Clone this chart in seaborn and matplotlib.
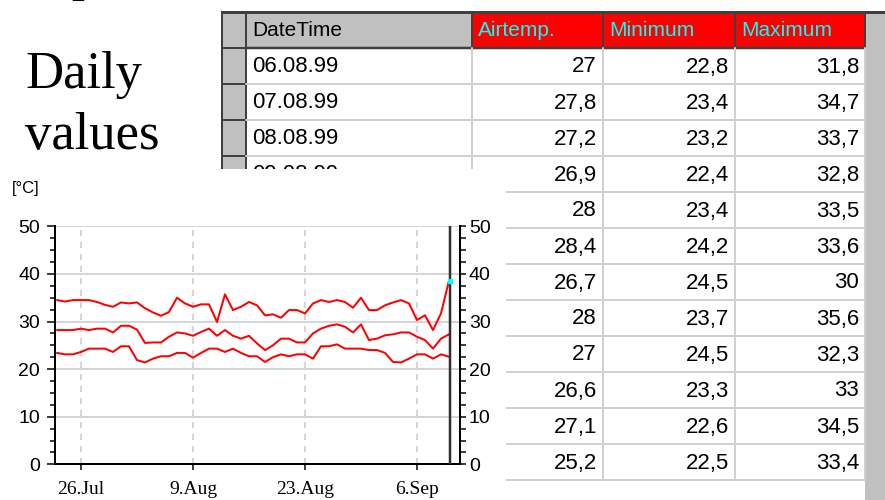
import pandas as pd
import matplotlib
matplotlib.use("Agg")
import matplotlib.pyplot as plt
from matplotlib.patches import Rectangle
from matplotlib.ticker import MultipleLocator
import seaborn as sns

# ---- chart data: daily values from 23 Jul ----
start_date = "1999-07-23"
t_max = [34.5, 34.2, 34.5, 34.5, 34.5, 34.1, 33.5, 33.1, 34.0, 33.8,
         34.0, 32.8, 31.9, 31.2, 32.0, 35.0, 33.8, 33.1, 33.6, 33.6,
         29.9, 35.7, 32.4, 33.1, 34.1, 33.4, 31.3, 31.5, 30.8, 32.4,
         32.4, 31.7, 33.8, 34.5, 34.1, 34.5, 34.1, 32.9, 35.0, 32.4,
         32.4, 33.4, 34.0, 34.5, 33.8, 30.3, 31.3, 28.2, 31.7, 38.6]
t_mean = [28.2, 28.2, 28.2, 28.5, 28.2, 28.5, 28.5, 27.7, 29.1, 29.1,
          28.3, 25.5, 25.6, 25.6, 26.8, 27.7, 27.5, 27.0, 27.8, 28.5,
          27.0, 28.2, 27.0, 26.4, 27.0, 25.4, 24.0, 25.0, 26.4, 26.4,
          25.6, 25.6, 27.5, 28.5, 29.1, 29.4, 28.9, 27.7, 29.4, 26.1,
          26.4, 27.1, 27.3, 27.7, 27.7, 26.8, 26.1, 24.3, 26.4, 27.3]
t_min = [23.4, 23.1, 23.1, 23.6, 24.3, 24.3, 24.3, 23.6, 24.8, 24.8,
         21.9, 21.4, 22.2, 22.7, 22.7, 23.4, 23.4, 22.4, 23.4, 24.3,
         24.3, 23.6, 24.3, 23.4, 22.7, 22.7, 21.5, 22.5, 23.1, 22.7,
         23.1, 23.1, 22.2, 24.8, 24.8, 25.2, 24.3, 24.3, 24.3, 24.0,
         24.0, 23.4, 21.5, 21.4, 22.2, 23.1, 23.1, 22.2, 23.1, 22.6]
first_tick = "1999-07-26"

# ---- table data ----
table_header = ["DateTime", "Airtemp.", "Minimum", "Maximum"]
table_dates = ["06.08.99", "07.08.99", "08.08.99", "09.08.99", "10.08.99", "11.08.99",
               "12.08.99", "13.08.99", "14.08.99", "15.08.99", "16.08.99", "17.08.99"]
table_air = [27, 27.8, 27.2, 26.9, 28, 28.4, 26.7, 28, 27, 26.6, 27.1, 25.2]
table_min = [22.8, 23.4, 23.2, 22.4, 23.4, 24.2, 24.5, 23.7, 24.5, 23.3, 22.6, 22.5]
table_max = [31.8, 34.7, 33.7, 32.8, 33.5, 33.6, 30, 35.6, 32.3, 33, 34.5, 33.4]

sns.set_style("white")
plt.rcParams["font.family"] = ["Liberation Sans", "DejaVu Sans"]
plt.rcParams.update({"text.color": "black", "axes.labelcolor": "black",
                     "xtick.color": "black", "ytick.color": "black"})

W, H = 885, 500
fig = plt.figure(figsize=(W / 100, H / 100), dpi=100)
PX = 72 / 100  # points per pixel

# background layer in pixel coordinates
bg = fig.add_axes([0, 0, 1, 1])
bg.set_xlim(0, W)
bg.set_ylim(H, 0)
bg.axis("off")

GRAY = "#c0c0c0"
DARK = "#404040"
LINE = "#d0d0d0"
table_font = ["Liberation Sans"]

col_edges = [246, 472, 603, 735, 865]
ind_left, top, row_h = 222, 12, 36
body_top = top + row_h
body_bottom = body_top + row_h * len(table_dates)

# scroll strip on the right
bg.add_patch(Rectangle((col_edges[-1], top), W - col_edges[-1], H - top, fc=GRAY, ec="none"))

# header
for i, name in enumerate(table_header):
    x0, x1 = col_edges[i], col_edges[i + 1]
    fc = GRAY if i == 0 else "#ff0000"
    bg.add_patch(Rectangle((x0, top), x1 - x0, row_h, fc=fc, ec=DARK, lw=2 * PX))
    bg.text(x0 + 6, top + row_h / 2 + 1, name, ha="left", va="center", fontsize=15,
            family=table_font, color="black" if i == 0 else "#00ffff")

# row indicator buttons
for r in range(len(table_dates) + 1):
    bg.add_patch(Rectangle((ind_left, top + r * row_h), col_edges[0] - ind_left, row_h,
                           fc=GRAY, ec=DARK, lw=2 * PX))
bg.plot([ind_left, W], [top, top], color=DARK, lw=3 * PX)
bg.plot([col_edges[0], col_edges[-1]], [body_top, body_top], color=DARK, lw=2.5 * PX)

# body grid
for r in range(1, len(table_dates) + 1):
    y = body_top + r * row_h
    bg.plot([col_edges[0], col_edges[-1]], [y, y], color=LINE, lw=2 * PX)
for x in col_edges[1:]:
    bg.plot([x, x], [body_top, body_bottom], color=LINE, lw=2 * PX)

fmt = lambda v: f"{v:g}".replace(".", ",")
for r, d in enumerate(table_dates):
    yc = body_top + r * row_h + row_h / 2 + 1
    bg.text(col_edges[0] + 6, yc, d, ha="left", va="center", fontsize=16, family=table_font)
    for c, vals in enumerate([table_air, table_min, table_max]):
        bg.text(col_edges[c + 2] - 6, yc, fmt(vals[r]), ha="right", va="center",
                fontsize=16, family=table_font)

# slide text
serif = ["Liberation Serif", "DejaVu Serif"]
bg.text(28, -10, "Input data", fontsize=38, family=serif, va="baseline")
bg.text(25, 88, "Daily", fontsize=38, family=serif, va="baseline")
bg.text(25, 149, "values", fontsize=38, family=serif, va="baseline")

# white panel for the chart
bg.add_patch(Rectangle((0, 169), 506, H - 169, fc="white", ec="none", zorder=10))

# ---- chart ----
dates = pd.date_range(start_date, periods=len(t_max), freq="D")
df = pd.DataFrame({"date": dates, "max": t_max, "mean": t_mean, "min": t_min})

ax = fig.add_axes([55 / W, 1 - 464.3 / H, 405 / W, 238 / H])
ax.set_facecolor("none")
for col in ["max", "mean", "min"]:
    sns.lineplot(data=df, x="date", y=col, ax=ax, color="#ff0000", lw=2 * PX)

cursor = dates[-1] + pd.Timedelta(hours=3)
ax.axvline(cursor, color="#303030", lw=2.5 * PX, zorder=5)
ax.plot([cursor], [t_max[-1]], marker="s", ms=2.5, color="#00ffff", zorder=6)

ax.set_xlim(dates[0] - pd.Timedelta(hours=6), dates[-1] + pd.Timedelta(hours=33))
ax.set_ylim(0, 50)
ax.set_xlabel("")
ax.set_ylabel("")

xt = pd.date_range(first_tick, periods=4, freq="14D")
ax.set_xticks(xt)
ax.set_xticklabels([f"{d.day}.{d.strftime('%b')}" for d in xt], family=serif, fontsize=14)
ax.yaxis.set_major_locator(MultipleLocator(10))
ax.yaxis.set_minor_locator(MultipleLocator(2.5))
ax.tick_params(axis="y", which="major", direction="out", length=8 * PX, width=1.5 * PX,
               labelsize=14, pad=5, left=True)
ax.tick_params(axis="y", which="minor", direction="out", length=5 * PX, width=1.5 * PX, left=True)
ax.tick_params(axis="x", direction="out", length=6 * PX, width=1.5 * PX, pad=8, bottom=True)

ax.grid(axis="y", color="#c8c8c8", lw=1.5 * PX)
ax.grid(axis="x", color="#c8c8c8", lw=1.5 * PX, ls=(0, (4, 4)))
ax.set_axisbelow(True)
for s in ["left", "bottom"]:
    ax.spines[s].set_color("black")
    ax.spines[s].set_linewidth(2 * PX)
ax.spines["top"].set_visible(False)
ax.spines["right"].set_visible(False)

ax2 = ax.twinx()
ax2.set_ylim(0, 50)
ax2.yaxis.set_major_locator(MultipleLocator(10))
ax2.yaxis.set_minor_locator(MultipleLocator(2.5))
ax2.tick_params(axis="y", which="both", direction="out", length=6 * PX, width=1.5 * PX,
                labelsize=14, pad=2, right=True)
ax2.grid(False)
ax2.spines["right"].set_color("black")
ax2.spines["right"].set_linewidth(2 * PX)
for s in ["left", "top", "bottom"]:
    ax2.spines[s].set_visible(False)

fig.text(12 / W, 1 - 188 / H, "[°C]", fontsize=12, va="center", ha="left")

fig.savefig("out.png", dpi=100)
